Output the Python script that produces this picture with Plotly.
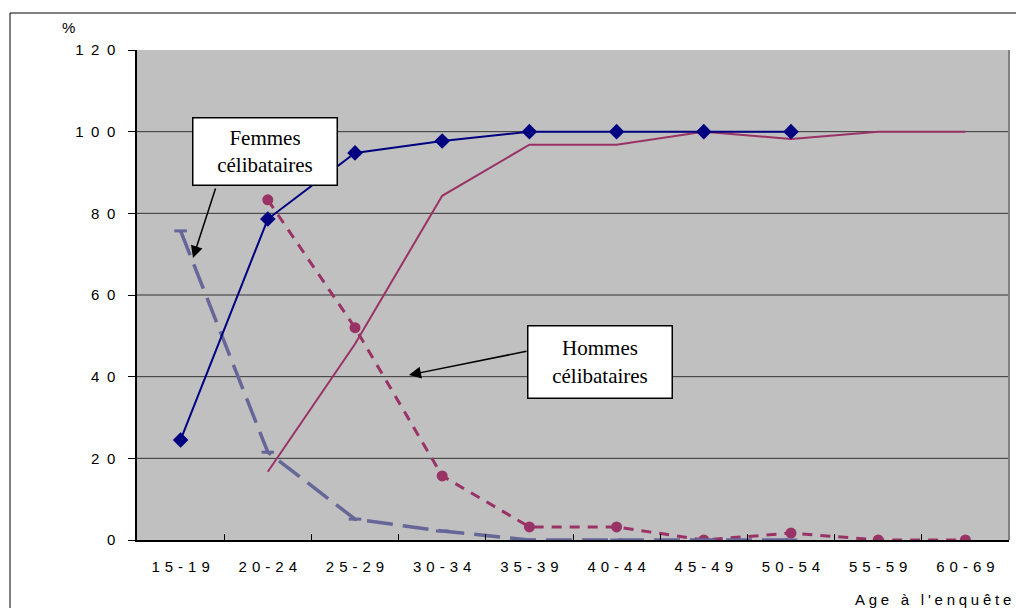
import plotly.graph_objects as go

ages = ["15-19", "20-24", "25-29", "30-34", "35-39", "40-44", "45-49", "50-54", "55-59", "60-69"]
femmes_non_celib = [24.5, 78.6, 94.8, 97.7, 100, 100, 100, 100, None, None]
hommes_non_celib = [None, 16.7, 48, 84.3, 96.8, 96.8, 100, 98.2, 100, 100]
femmes_celib = [75.7, 21.5, 5.1, 2.2, 0, 0, 0, 0, None, None]
hommes_celib = [None, 83.3, 52, 15.7, 3.2, 3.2, 0, 1.7, 0, 0]
y_ticks = [0, 20, 40, 60, 80, 100, 120]
grid_vals = [20, 40, 60, 80, 100]

SP = "\u2002"
def spaced(s, sep=SP):
    return sep.join(list(s))

x_labels = [spaced(a, "\u2004") for a in ages]

W, H = 1016, 608
L, R, T, B = 137, 7, 50, 68
pw, ph = W - L - R, H - T - B

def px(x):
    return (x - L) / pw

def py(y):
    return (H - B - y) / ph

fig = go.Figure()

fig.add_trace(go.Scatter(
    x=x_labels, y=hommes_celib, mode="lines+markers",
    line=dict(color="#993366", width=3, dash="10px,8px"),
    marker=dict(symbol="circle", size=11, color="#993366"),
    connectgaps=False, showlegend=False))
fig.add_trace(go.Scatter(
    x=x_labels, y=femmes_celib, mode="lines+markers",
    line=dict(color="#666699", width=3.5, dash="26px,10px"),
    marker=dict(symbol="line-ew", size=9, line=dict(color="#666699", width=3)),
    showlegend=False))
fig.add_trace(go.Scatter(
    x=x_labels, y=hommes_non_celib, mode="lines",
    line=dict(color="#993366", width=2),
    showlegend=False))
fig.add_trace(go.Scatter(
    x=x_labels, y=femmes_non_celib, mode="lines+markers",
    line=dict(color="#000080", width=2),
    marker=dict(symbol="diamond", size=12, color="#000080"),
    showlegend=False))

shapes = []
for g in grid_vals:
    shapes.append(dict(type="line", xref="paper", yref="y", x0=0, x1=1, y0=g, y1=g,
                       line=dict(color="#333333", width=1), layer="below"))
shapes.append(dict(type="line", xref="paper", yref="paper", x0=1, x1=1, y0=0, y1=1,
                   line=dict(color="#808080", width=2)))
# outer chart frame
shapes.append(dict(type="rect", xref="paper", yref="paper",
                   x0=px(10), x1=px(1030), y0=py(620), y1=py(13),
                   line=dict(color="black", width=1), fillcolor="rgba(0,0,0,0)"))

serif = "Liberation Serif, Times New Roman, serif"
annotations = [
    # arrows
    dict(xref="paper", yref="paper", x=px(193), y=py(258), text="", showarrow=True,
         ax=23, ay=-71, arrowhead=2, arrowsize=1.6, arrowwidth=1.5, arrowcolor="black"),
    dict(xref="paper", yref="paper", x=px(409), y=py(375), text="", showarrow=True,
         ax=119, ay=-24, arrowhead=2, arrowsize=1.6, arrowwidth=1.5, arrowcolor="black"),
    # boxes
    dict(xref="paper", yref="paper", x=px(264.5), y=py(151), text="Femmes<br>célibataires",
         showarrow=False, font=dict(family=serif, size=21, color="black"),
         bgcolor="white", bordercolor="black", borderwidth=1.5, borderpad=2,
         width=139, height=62, xanchor="center", yanchor="middle"),
    dict(xref="paper", yref="paper", x=px(600), y=py(362), text="Hommes<br>célibataires",
         showarrow=False, font=dict(family=serif, size=21, color="black"),
         bgcolor="white", bordercolor="black", borderwidth=1.5, borderpad=2,
         width=139, height=67, xanchor="center", yanchor="middle"),
    # axis titles
    dict(xref="paper", yref="paper", x=px(68), y=py(27), text="%", showarrow=False,
         font=dict(family="Liberation Sans, Arial", size=15, color="black"),
         xanchor="center", yanchor="middle"),
    dict(xref="paper", yref="paper", x=px(1013), y=py(599), text=spaced("Age à l'enquête", "\u2005"),
         showarrow=False, font=dict(family="Liberation Sans, Arial", size=15, color="black"),
         xanchor="right", yanchor="middle"),
]

fig.update_layout(
    width=W, height=H,
    margin=dict(l=L, r=R, t=T, b=B),
    paper_bgcolor="white",
    plot_bgcolor="#C0C0C0",
    font=dict(family="Liberation Sans, Arial", size=15, color="black"),
    shapes=shapes,
    annotations=annotations,
    xaxis=dict(type="category", categoryorder="array", categoryarray=x_labels,
               range=[-0.5, len(ages) - 0.5],
               tickson="boundaries", ticks="inside", ticklen=6, tickcolor="black",
               showline=True, linecolor="black", linewidth=1.5, showgrid=False,
               ticklabelstandoff=12, zeroline=False, fixedrange=True),
    yaxis=dict(range=[0, 120], tickvals=y_ticks, ticktext=[spaced(str(v)) for v in y_ticks],
               ticks="outside", ticklen=7, tickcolor="black",
               showline=True, linecolor="black", linewidth=1.5, showgrid=False,
               zeroline=False, ticklabelstandoff=10, fixedrange=True),
)

fig.write_html("out.html")
